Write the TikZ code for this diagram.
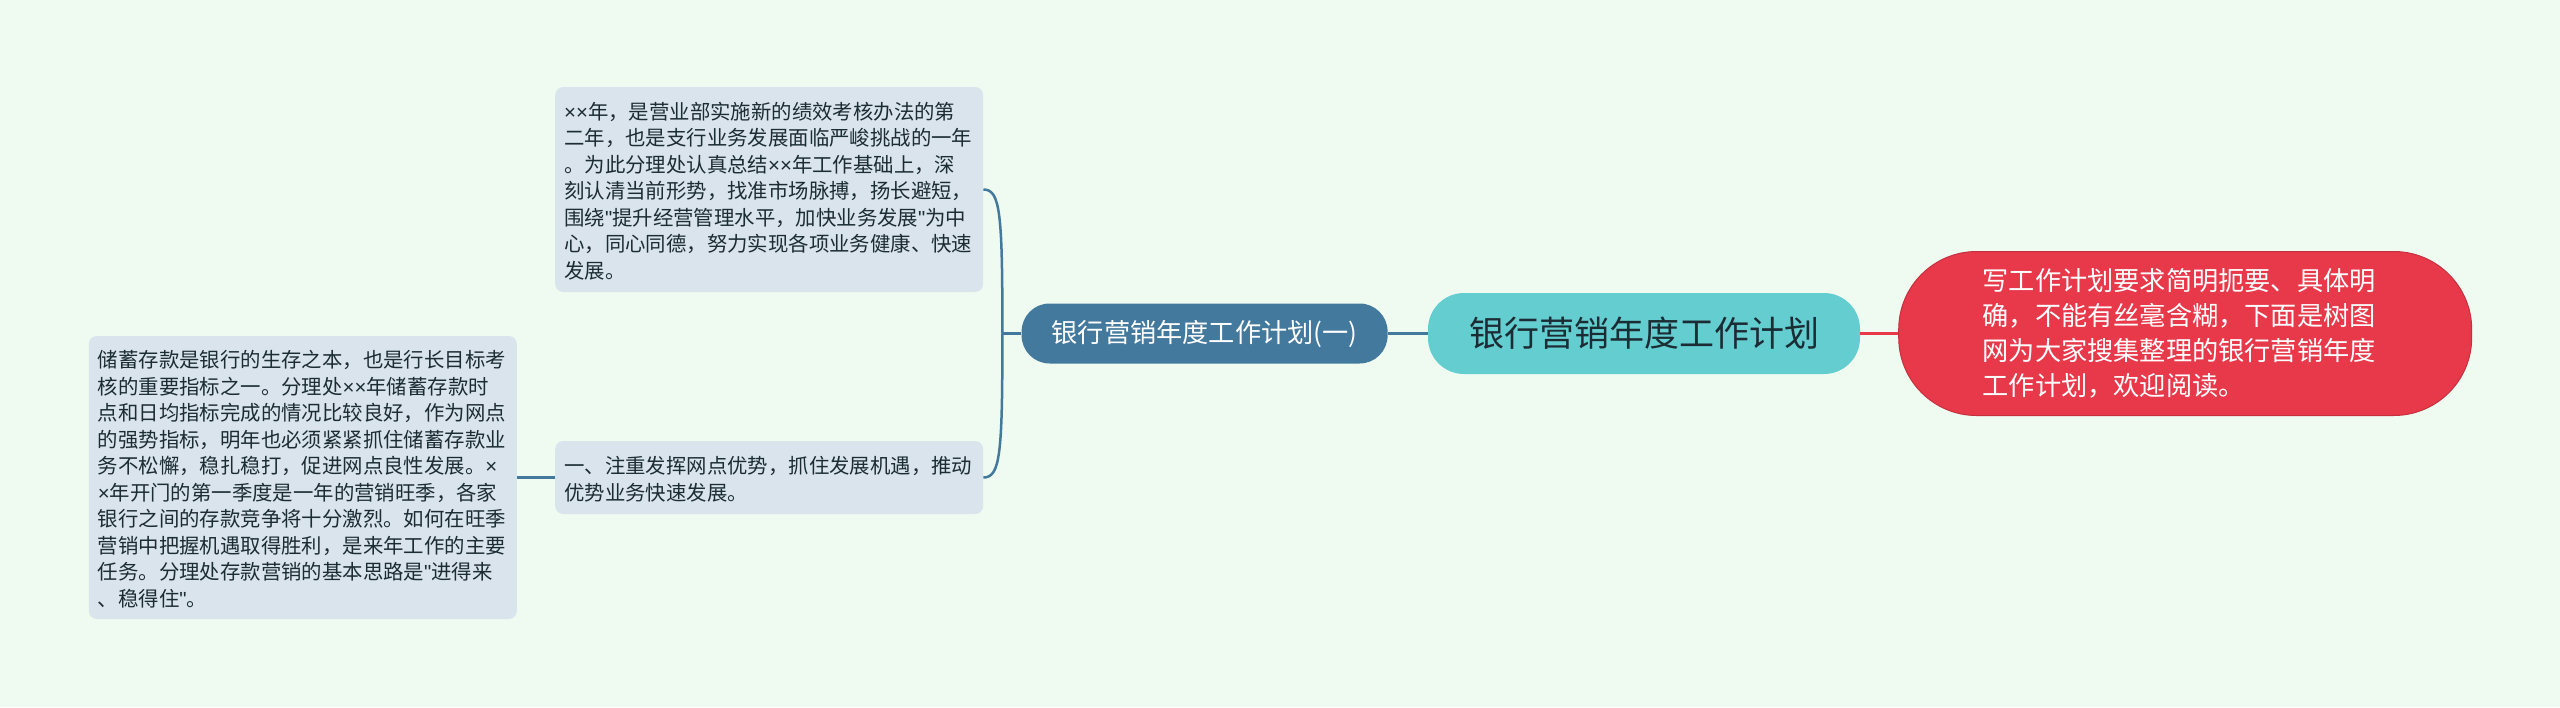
\documentclass[tikz,border=0pt]{standalone}
\usepackage{fontspec}
\setmainfont{Noto Sans CJK SC}
\newfontfamily\latinfont{Liberation Sans}
\newcommand{\xx}{{\latinfont ×}}
\newcommand{\qm}{{\latinfont "}}
\newcommand{\detailpad}{\endgraf\vspace*{-3pt}}
\definecolor{mypagebg}{RGB}{239,251,240}
\definecolor{myteal}{RGB}{99,205,208}
\definecolor{myblue}{RGB}{68,121,158}
\definecolor{myred}{RGB}{232,57,74}
\definecolor{mybox}{RGB}{217,228,236}
\definecolor{myink}{RGB}{28,44,52}
\usetikzlibrary{positioning}
\tikzstyle{rootnode}=[fill=myteal,rounded corners=36pt,minimum width=432pt,minimum height=81pt,inner sep=0pt,text=myink,font=\fontsize{35}{40}\selectfont]
\tikzstyle{branch}=[fill=myblue,rounded corners=28pt,minimum width=366pt,minimum height=60pt,inner sep=0pt,text=white,font=\fontsize{26.2}{30}\selectfont]
\tikzstyle{intro}=[fill=myred,draw=myred!85!black,line width=1pt,rounded corners=78pt,minimum width=573pt,minimum height=164pt,inner sep=0pt,text=white,text width=405pt,align=left,font=\fontsize{26.2}{35.2}\selectfont]
\tikzstyle{detail}=[fill=mybox,rounded corners=8pt,inner xsep=9pt,inner ysep=0pt,text width=410pt,align=left,text=myink,font=\fontsize{20.4}{26.5}\selectfont,execute at end node=\detailpad]
\tikzstyle{link}=[line width=3pt,draw=myblue]
\begin{document}
\begin{tikzpicture}[x=1pt,y=1pt]
\useasboundingbox (0,0) rectangle (2560,-707);
\fill [mypagebg] (0,0) rectangle (2560,-707);
\node [rootnode] (root) at (1644,-333.5) {银行营销年度工作计划};
\node [branch] [left=40pt of root.west] (plan) {银行营销年度工作计划(一)};
\node [intro] [right=38pt of root.east] (note) {写工作计划要求简明扼要、具体明\\确，不能有丝毫含糊，下面是树图\\网为大家搜集整理的银行营销年度\\工作计划，欢迎阅读。};
\node [detail,minimum height=205pt] [left=38pt of plan.west,yshift=144pt] (review) {\xx\xx 年，是营业部实施新的绩效考核办法的第\\二年，也是支行业务发展面临严峻挑战的一年\\。为此分理处认真总结\xx\xx 年工作基础上，深\\刻认清当前形势，找准市场脉搏，扬长避短，\\围绕\qm 提升经营管理水平，加快业务发展\qm 为中\\心，同心同德，努力实现各项业务健康、快速\\发展。};
\node [detail,minimum height=73pt] [left=38pt of plan.west,yshift=-144pt] (outlet) {一、注重发挥网点优势，抓住发展机遇，推动\\优势业务快速发展。};
\node [detail,minimum height=283pt] [left=38pt of outlet.west] (savings) {储蓄存款是银行的生存之本，也是行长目标考\\核的重要指标之一。分理处\xx\xx 年储蓄存款时\\点和日均指标完成的情况比较良好，作为网点\\的强势指标，明年也必须紧紧抓住储蓄存款业\\务不松懈，稳扎稳打，促进网点良性发展。\xx\\\xx 年开门的第一季度是一年的营销旺季，各家\\银行之间的存款竞争将十分激烈。如何在旺季\\营销中把握机遇取得胜利，是来年工作的主要\\任务。分理处存款营销的基本思路是\qm 进得来\\、稳得住\qm 。};
\coordinate [left=19pt of plan.west] (fork);
\draw [link,draw=myred] (root.east) -- (note.west);
\draw [link] (root.west) -- (plan.east);
\draw [link] (plan.west) -- (fork);
\draw [link,line width=2.5pt] (review.east) .. controls +(17,0) and +(0,120) .. (fork);
\draw [link,line width=2.5pt] (outlet.east) .. controls +(17,0) and +(0,-120) .. (fork);
\draw [link] (outlet.west) -- (savings.east);
\end{tikzpicture}
\end{document}
